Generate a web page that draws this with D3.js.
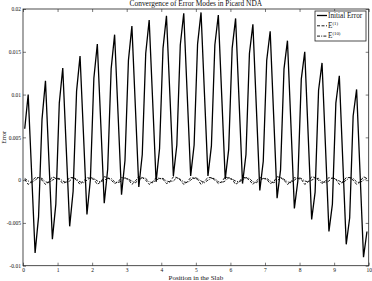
<!DOCTYPE html>
<html>
<head>
<meta charset="UTF-8">
<script src="https://cdnjs.cloudflare.com/ajax/libs/d3/7.8.5/d3.min.js"></script>
<style>
  body { margin: 0; background: #fff; }
  svg text { font-family: "Liberation Serif", "Times New Roman", serif; fill: #111; }
</style>
</head>
<body>
<svg id="chart" width="372" height="281"></svg>
<script>
// cell-centred grid, 100 cells on [0,10]
const cellWidth = 0.1;
const nCells = 100;

// Initial error (5 cells per wave)
const initialError = [
  0.0060, 0.0100, 0.0008, -0.0085, -0.0043,
  0.0071, 0.0116, 0.0023, -0.0069, -0.0028,
  0.0090, 0.0131, 0.0038, -0.0054, -0.0013,
  0.0104, 0.0145, 0.0053, -0.0040, 0.0001,
  0.0119, 0.0159, 0.0066, -0.0027, 0.0013,
  0.0130, 0.0170, 0.0077, -0.0017, 0.0023,
  0.0140, 0.0180, 0.0086, -0.0008, 0.0030,
  0.0148, 0.0187, 0.0093, -0.0002, 0.0037,
  0.0154, 0.0192, 0.0099, 0.0005, 0.0041,
  0.0158, 0.0195, 0.0100, 0.0005, 0.0041,
  0.0159, 0.0196, 0.0100, 0.0005, 0.0040,
  0.0158, 0.0193, 0.0097, 0.0001, 0.0036,
  0.0154, 0.0189, 0.0093, -0.0004, 0.0030,
  0.0148, 0.0182, 0.0085, -0.0012, 0.0022,
  0.0140, 0.0174, 0.0076, -0.0021, 0.0012,
  0.0130, 0.0163, 0.0065, -0.0033, -0.0001,
  0.0118, 0.0150, 0.0052, -0.0046, -0.0014,
  0.0105, 0.0137, 0.0039, -0.0060, -0.0028,
  0.0090, 0.0122, 0.0023, -0.0075, -0.0044,
  0.0075, 0.0106, 0.0008, -0.0090, -0.0060
];

// E(1): small wiggle round zero
const error1 = [
  0.0001, -0.0005, -0.0002, 0.0003, 0.0003,
  0.0000, -0.0005, -0.0002, 0.0004, 0.0002,
  0.0001, -0.0004, -0.0002, 0.0003, 0.0003,
  0.0000, -0.0005, -0.0001, 0.0003, 0.0002,
  0.0001, -0.0005, -0.0002, 0.0004, 0.0003,
  0.0000, -0.0004, -0.0002, 0.0003, 0.0002,
  0.0001, -0.0005, -0.0001, 0.0004, 0.0003,
  0.0000, -0.0005, -0.0002, 0.0003, 0.0002,
  0.0001, -0.0004, -0.0002, 0.0004, 0.0003,
  0.0000, -0.0005, -0.0002, 0.0003, 0.0002,
  0.0001, -0.0005, -0.0001, 0.0003, 0.0003,
  0.0000, -0.0004, -0.0002, 0.0004, 0.0002,
  0.0001, -0.0005, -0.0002, 0.0003, 0.0003,
  0.0000, -0.0005, -0.0001, 0.0003, 0.0002,
  0.0001, -0.0004, -0.0002, 0.0004, 0.0003,
  0.0000, -0.0005, -0.0002, 0.0003, 0.0002,
  0.0001, -0.0005, -0.0002, 0.0004, 0.0003,
  0.0000, -0.0004, -0.0001, 0.0003, 0.0002,
  0.0001, -0.0005, -0.0002, 0.0003, 0.0003,
  0.0000, -0.0005, -0.0002, 0.0004, 0.0002
];

// E(10)
const error10 = [
  0.0002, -0.0001, -0.0003, 0.0000, 0.0003,
  0.0002, -0.0002, -0.0003, 0.0000, 0.0002,
  0.0002, -0.0001, -0.0003, -0.0001, 0.0003,
  0.0001, -0.0002, -0.0003, 0.0000, 0.0003,
  0.0002, -0.0001, -0.0002, 0.0000, 0.0002,
  0.0002, -0.0002, -0.0003, -0.0001, 0.0003,
  0.0001, -0.0001, -0.0003, 0.0000, 0.0003,
  0.0002, -0.0002, -0.0003, 0.0000, 0.0002,
  0.0002, -0.0001, -0.0002, -0.0001, 0.0003,
  0.0001, -0.0002, -0.0003, 0.0000, 0.0003,
  0.0002, -0.0001, -0.0003, 0.0000, 0.0002,
  0.0002, -0.0002, -0.0003, -0.0001, 0.0003,
  0.0001, -0.0001, -0.0002, 0.0000, 0.0003,
  0.0002, -0.0002, -0.0003, 0.0000, 0.0002,
  0.0002, -0.0001, -0.0003, -0.0001, 0.0003,
  0.0001, -0.0002, -0.0003, 0.0000, 0.0003,
  0.0002, -0.0001, -0.0002, 0.0000, 0.0002,
  0.0002, -0.0002, -0.0003, -0.0001, 0.0003,
  0.0001, -0.0001, -0.0003, 0.0000, 0.0003,
  0.0002, -0.0002, -0.0003, 0.0000, 0.0002
];

const xTicks = [0, 1, 2, 3, 4, 5, 6, 7, 8, 9, 10];
const yTicks = [-0.01, -0.005, 0, 0.005, 0.01, 0.015, 0.02];
const yTickLabels = ["-0.01", "-0.005", "0", "0.005", "0.01", "0.015", "0.02"];

const seriesNames = ["Initial Error", "E(1)", "E(10)"];
const seriesDash = [null, "3,1.5", "3,1.2,1,1.2"];

const positions = d3.range(nCells).map(i => (i + 0.5) * cellWidth);

const svg = d3.select("#chart");
const L = 23, R = 368.7, T = 9, B = 265.7;

const x = d3.scaleLinear().domain([0, 10]).range([L, R]);
const y = d3.scaleLinear().domain([-0.01, 0.02]).range([B, T]);

svg.append("rect").attr("width", 372).attr("height", 281).attr("fill", "#fff");

// axes, MATLAB style ticks pointing inward
const axB = d3.axisBottom(x).tickValues(xTicks).tickFormat(d3.format("d")).tickSize(-3).tickSizeOuter(0).tickPadding(2);
const axT = d3.axisTop(x).tickValues(xTicks).tickFormat("").tickSize(-3).tickSizeOuter(0);
const axL = d3.axisLeft(y).tickValues(yTicks).tickFormat((d, i) => yTickLabels[i]).tickSize(-3).tickSizeOuter(0).tickPadding(2);
const axR = d3.axisRight(y).tickValues(yTicks).tickFormat("").tickSize(-3).tickSizeOuter(0);

const gB = svg.append("g").attr("transform", `translate(0,${B})`).call(axB);
const gT = svg.append("g").attr("transform", `translate(0,${T})`).call(axT);
const gL = svg.append("g").attr("transform", `translate(${L},0)`).call(axL);
const gR = svg.append("g").attr("transform", `translate(${R},0)`).call(axR);

[gB, gT, gL, gR].forEach(g => {
  g.select(".domain").remove();
  g.selectAll(".tick line").attr("stroke", "#222").attr("stroke-width", 0.6);
  g.selectAll("text").attr("font-size", 5.5).attr("font-family", "Liberation Serif").attr("fill", "#222");
});

svg.append("rect")
  .attr("x", L).attr("y", T).attr("width", R - L).attr("height", B - T)
  .attr("fill", "none").attr("stroke", "#222").attr("stroke-width", 0.8);

const line = d3.line().x((d, i) => x(positions[i])).y(d => y(d));

const allSeries = [initialError, error1, error10];
allSeries.forEach((s, k) => {
  svg.append("path")
    .datum(s)
    .attr("d", line)
    .attr("fill", "none")
    .attr("stroke", "#000")
    .attr("stroke-width", k === 0 ? 1.3 : 0.9)
    .attr("stroke-linejoin", "miter")
    .attr("stroke-dasharray", seriesDash[k]);
});

// title and labels
svg.append("text")
  .attr("x", (L + R) / 2).attr("y", 6.3)
  .attr("text-anchor", "middle").attr("font-size", 7.4)
  .text("Convergence of Error Modes in Picard NDA");

svg.append("text")
  .attr("x", (L + R) / 2).attr("y", 279.5)
  .attr("text-anchor", "middle").attr("font-size", 7)
  .attr("fill", "#222")
  .text("Position in the Slab");

svg.append("text")
  .attr("transform", `translate(5.5,${(T + B) / 2}) rotate(-90)`)
  .attr("text-anchor", "middle").attr("font-size", 6)
  .attr("fill", "#222")
  .text("Error");

// legend
const lg = svg.append("g").attr("transform", "translate(315,11)");
lg.append("rect").attr("width", 51).attr("height", 30)
  .attr("fill", "#fff").attr("stroke", "#222").attr("stroke-width", 0.8);

seriesNames.forEach((name, k) => {
  const yy = 4.5 + k * 10.3;
  lg.append("line")
    .attr("x1", 2).attr("x2", 12).attr("y1", yy).attr("y2", yy)
    .attr("stroke", "#000").attr("stroke-width", k === 0 ? 1.3 : 0.9)
    .attr("stroke-dasharray", seriesDash[k]);
  const t = lg.append("text").attr("x", 13).attr("y", yy + 2.2).attr("font-size", 7.2);
  if (k === 0) {
    t.text(name);
  } else {
    t.append("tspan").text("E");
    t.append("tspan").attr("dy", -3).attr("font-size", 4.8).text(k === 1 ? "(1)" : "(10)");
  }
});
</script>
</body>
</html>
